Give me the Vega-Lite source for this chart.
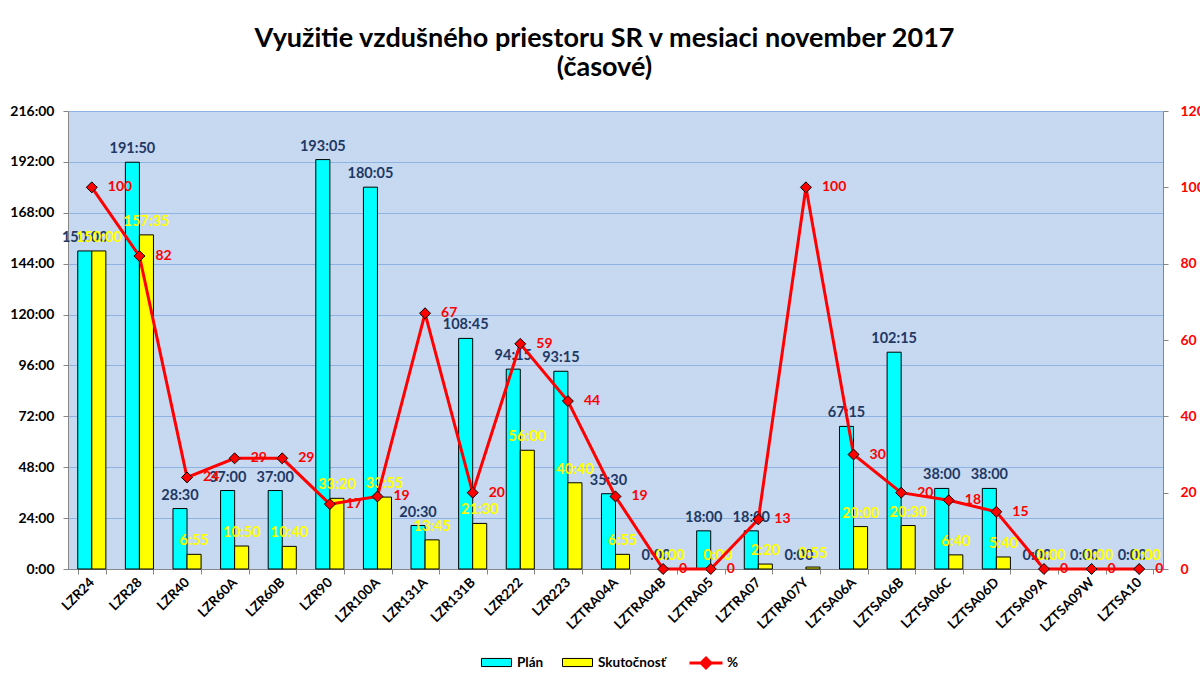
{
  "$schema": "https://vega.github.io/schema/vega-lite/v6.json",
  "width": 1095,
  "height": 458,
  "autosize": {"type": "none"},
  "padding": {"left": 68, "top": 111, "right": 37, "bottom": 106},
  "background": "white",
  "config": {
    "view": {"fill": "#C6D9F0", "stroke": null},
    "font": "Lato"
  },
  "title": {
    "text": ["Využitie vzdušného priestoru SR v mesiaci november 2017", "(časové)"],
    "font": "Lato",
    "fontSize": 27,
    "fontWeight": "bold",
    "color": "black",
    "lineHeight": 29,
    "anchor": "middle",
    "offset": 22,
    "dx": -11
  },
  "datasets": {
    "bars": [
      {"zone": "LZR24", "series": "Plán", "hours": 150, "label": "150:00"},
      {"zone": "LZR24", "series": "Skutočnosť", "hours": 150, "label": "150:00"},
      {"zone": "LZR28", "series": "Plán", "hours": 191.833, "label": "191:50"},
      {"zone": "LZR28", "series": "Skutočnosť", "hours": 157.583, "label": "157:35"},
      {"zone": "LZR40", "series": "Plán", "hours": 28.5, "label": "28:30"},
      {"zone": "LZR40", "series": "Skutočnosť", "hours": 6.917, "label": "6:55"},
      {"zone": "LZR60A", "series": "Plán", "hours": 37, "label": "37:00"},
      {"zone": "LZR60A", "series": "Skutočnosť", "hours": 10.833, "label": "10:50"},
      {"zone": "LZR60B", "series": "Plán", "hours": 37, "label": "37:00"},
      {"zone": "LZR60B", "series": "Skutočnosť", "hours": 10.667, "label": "10:40"},
      {"zone": "LZR90", "series": "Plán", "hours": 193.083, "label": "193:05"},
      {"zone": "LZR90", "series": "Skutočnosť", "hours": 33.333, "label": "33:20"},
      {"zone": "LZR100A", "series": "Plán", "hours": 180.083, "label": "180:05"},
      {"zone": "LZR100A", "series": "Skutočnosť", "hours": 33.917, "label": "33:55"},
      {"zone": "LZR131A", "series": "Plán", "hours": 20.5, "label": "20:30"},
      {"zone": "LZR131A", "series": "Skutočnosť", "hours": 13.75, "label": "13:45"},
      {"zone": "LZR131B", "series": "Plán", "hours": 108.75, "label": "108:45"},
      {"zone": "LZR131B", "series": "Skutočnosť", "hours": 21.5, "label": "21:30"},
      {"zone": "LZR222", "series": "Plán", "hours": 94.25, "label": "94:15"},
      {"zone": "LZR222", "series": "Skutočnosť", "hours": 56, "label": "56:00"},
      {"zone": "LZR223", "series": "Plán", "hours": 93.25, "label": "93:15"},
      {"zone": "LZR223", "series": "Skutočnosť", "hours": 40.667, "label": "40:40"},
      {"zone": "LZTRA04A", "series": "Plán", "hours": 35.5, "label": "35:30"},
      {"zone": "LZTRA04A", "series": "Skutočnosť", "hours": 6.917, "label": "6:55"},
      {"zone": "LZTRA04B", "series": "Plán", "hours": 0, "label": "0:00"},
      {"zone": "LZTRA04B", "series": "Skutočnosť", "hours": 0, "label": "0:00"},
      {"zone": "LZTRA05", "series": "Plán", "hours": 18, "label": "18:00"},
      {"zone": "LZTRA05", "series": "Skutočnosť", "hours": 0, "label": "0:00"},
      {"zone": "LZTRA07", "series": "Plán", "hours": 18, "label": "18:00"},
      {"zone": "LZTRA07", "series": "Skutočnosť", "hours": 2.333, "label": "2:20"},
      {"zone": "LZTRA07Y", "series": "Plán", "hours": 0, "label": "0:00"},
      {"zone": "LZTRA07Y", "series": "Skutočnosť", "hours": 0.917, "label": "0:55"},
      {"zone": "LZTSA06A", "series": "Plán", "hours": 67.25, "label": "67:15"},
      {"zone": "LZTSA06A", "series": "Skutočnosť", "hours": 20, "label": "20:00"},
      {"zone": "LZTSA06B", "series": "Plán", "hours": 102.25, "label": "102:15"},
      {"zone": "LZTSA06B", "series": "Skutočnosť", "hours": 20.5, "label": "20:30"},
      {"zone": "LZTSA06C", "series": "Plán", "hours": 38, "label": "38:00"},
      {"zone": "LZTSA06C", "series": "Skutočnosť", "hours": 6.667, "label": "6:40"},
      {"zone": "LZTSA06D", "series": "Plán", "hours": 38, "label": "38:00"},
      {"zone": "LZTSA06D", "series": "Skutočnosť", "hours": 5.667, "label": "5:40"},
      {"zone": "LZTSA09A", "series": "Plán", "hours": 0, "label": "0:00"},
      {"zone": "LZTSA09A", "series": "Skutočnosť", "hours": 0, "label": "0:00"},
      {"zone": "LZTSA09W", "series": "Plán", "hours": 0, "label": "0:00"},
      {"zone": "LZTSA09W", "series": "Skutočnosť", "hours": 0, "label": "0:00"},
      {"zone": "LZTSA10", "series": "Plán", "hours": 0, "label": "0:00"},
      {"zone": "LZTSA10", "series": "Skutočnosť", "hours": 0, "label": "0:00"}
    ],
    "pct": [
      {"zone": "LZR24", "pct": 100},
      {"zone": "LZR28", "pct": 82},
      {"zone": "LZR40", "pct": 24},
      {"zone": "LZR60A", "pct": 29},
      {"zone": "LZR60B", "pct": 29},
      {"zone": "LZR90", "pct": 17},
      {"zone": "LZR100A", "pct": 19},
      {"zone": "LZR131A", "pct": 67},
      {"zone": "LZR131B", "pct": 20},
      {"zone": "LZR222", "pct": 59},
      {"zone": "LZR223", "pct": 44},
      {"zone": "LZTRA04A", "pct": 19},
      {"zone": "LZTRA04B", "pct": 0},
      {"zone": "LZTRA05", "pct": 0},
      {"zone": "LZTRA07", "pct": 13},
      {"zone": "LZTRA07Y", "pct": 100},
      {"zone": "LZTSA06A", "pct": 30},
      {"zone": "LZTSA06B", "pct": 20},
      {"zone": "LZTSA06C", "pct": 18},
      {"zone": "LZTSA06D", "pct": 15},
      {"zone": "LZTSA09A", "pct": 0},
      {"zone": "LZTSA09W", "pct": 0},
      {"zone": "LZTSA10", "pct": 0}
    ]
  },
  "encoding": {
    "x": {
      "field": "zone",
      "type": "nominal",
      "scale": {
        "domain": ["LZR24", "LZR28", "LZR40", "LZR60A", "LZR60B", "LZR90", "LZR100A", "LZR131A", "LZR131B", "LZR222", "LZR223", "LZTRA04A", "LZTRA04B", "LZTRA05", "LZTRA07", "LZTRA07Y", "LZTSA06A", "LZTSA06B", "LZTSA06C", "LZTSA06D", "LZTSA09A", "LZTSA09W", "LZTSA10"],
        "paddingInner": 0.41,
        "paddingOuter": 0.205
      },
      "axis": {
        "title": null,
        "labelAngle": -45,
        "labelAlign": "right",
        "labelBaseline": "middle",
        "labelFont": "Lato",
        "labelFontSize": 13.5,
        "labelFontWeight": "bold",
        "labelColor": "black",
        "labelPadding": 6,
        "tickBand": "extent",
        "tickColor": "#868686",
        "tickSize": 5,
        "domainColor": "#868686",
        "grid": false
      }
    }
  },
  "layer": [
    {
      "data": {"name": "bars"},
      "encoding": {
        "y": {
          "field": "hours",
          "type": "quantitative",
          "scale": {"domain": [0, 216], "nice": false},
          "axis": {
            "title": null,
            "values": [0, 24, 48, 72, 96, 120, 144, 168, 192, 216],
            "labelExpr": "datum.value + ':00'",
            "labelFont": "Lato",
            "labelFontSize": 14,
            "labelFontWeight": "bold",
            "labelColor": "black",
            "labelPadding": 9,
            "tickColor": "#868686",
            "tickSize": 5,
            "domainColor": "#868686",
            "gridColor": "#8DB3E2",
            "gridWidth": 1
          }
        },
        "xOffset": {"field": "series", "type": "nominal", "scale": {"domain": ["Plán", "Skutočnosť"], "paddingInner": 0, "paddingOuter": 0}}
      },
      "layer": [
        {
          "mark": {"type": "bar", "stroke": "black"},
          "encoding": {
            "strokeWidth": {"condition": {"test": "datum.hours === 0", "value": 0}, "value": 1},
            "color": {
              "field": "series",
              "type": "nominal",
              "scale": {"domain": ["Plán", "Skutočnosť"], "range": ["#00FFFF", "#FFFF00"]},
              "legend": {
                "orient": "none",
                "legendX": 413,
                "legendY": 536,
                "direction": "horizontal",
                "title": null,
                "labelFont": "Lato",
                "labelFontSize": 13.5,
                "labelFontWeight": "bold",
                "labelColor": "black",
                "labelOffset": 5,
                "columnPadding": 16,
                "symbolType": "M-1,-0.27H1V0.27H-1Z",
                "symbolSize": 900,
                "symbolStrokeColor": "black",
                "symbolStrokeWidth": 1,
                "symbolOpacity": 1
              }
            }
          }
        },
        {
          "mark": {"type": "text", "baseline": "alphabetic", "dy": -9, "font": "Lato", "fontSize": 14.5, "fontWeight": "bold"},
          "encoding": {
            "text": {"field": "label"},
            "color": {
              "condition": {"test": "datum.series === 'Plán'", "value": "#1F3864"},
              "value": "#FFFF00"
            }
          }
        }
      ]
    },
    {
      "data": {"name": "pct"},
      "encoding": {
        "y": {
          "field": "pct",
          "type": "quantitative",
          "scale": {"domain": [0, 120], "nice": false},
          "axis": {
            "orient": "right",
            "title": null,
            "values": [0, 20, 40, 60, 80, 100, 120],
            "labelFont": "Lato",
            "labelFontSize": 14,
            "labelFontWeight": "bold",
            "labelColor": "#FF0000",
            "labelPadding": 12,
            "tickColor": "#868686",
            "tickSize": 5,
            "domainColor": "#868686",
            "grid": false
          }
        }
      },
      "layer": [
        {
          "mark": {"type": "line", "strokeWidth": 3},
          "encoding": {
            "stroke": {
              "datum": "%",
              "scale": {"domain": ["%"], "range": ["#FF0000"]},
              "legend": {
                "orient": "none",
                "legendX": 620,
                "legendY": 534,
                "title": null,
                "labelFont": "Lato",
                "labelFontSize": 13.5,
                "labelFontWeight": "bold",
                "labelColor": "black",
                "labelOffset": 3,
                "symbolType": "M-1,0H-0.3M0.3,0H1M0,-0.3L0.3,0L0,0.3L-0.3,0Z",
                "symbolSize": 1089,
                "symbolFillColor": "#FF0000",
                "symbolStrokeColor": "#FF0000",
                "symbolStrokeWidth": 3,
                "symbolOpacity": 1
              }
            }
          }
        },
        {
          "mark": {"type": "point", "shape": "diamond", "filled": true, "fill": "#FF0000", "stroke": "black", "strokeWidth": 1, "size": 120, "opacity": 1}
        },
        {
          "mark": {"type": "text", "align": "left", "baseline": "middle", "dx": 16, "font": "Lato", "fontSize": 14, "fontWeight": "bold", "color": "#FF0000"},
          "encoding": {"text": {"field": "pct", "type": "quantitative"}}
        }
      ]
    }
  ],
  "resolve": {"scale": {"y": "independent"}}
}
